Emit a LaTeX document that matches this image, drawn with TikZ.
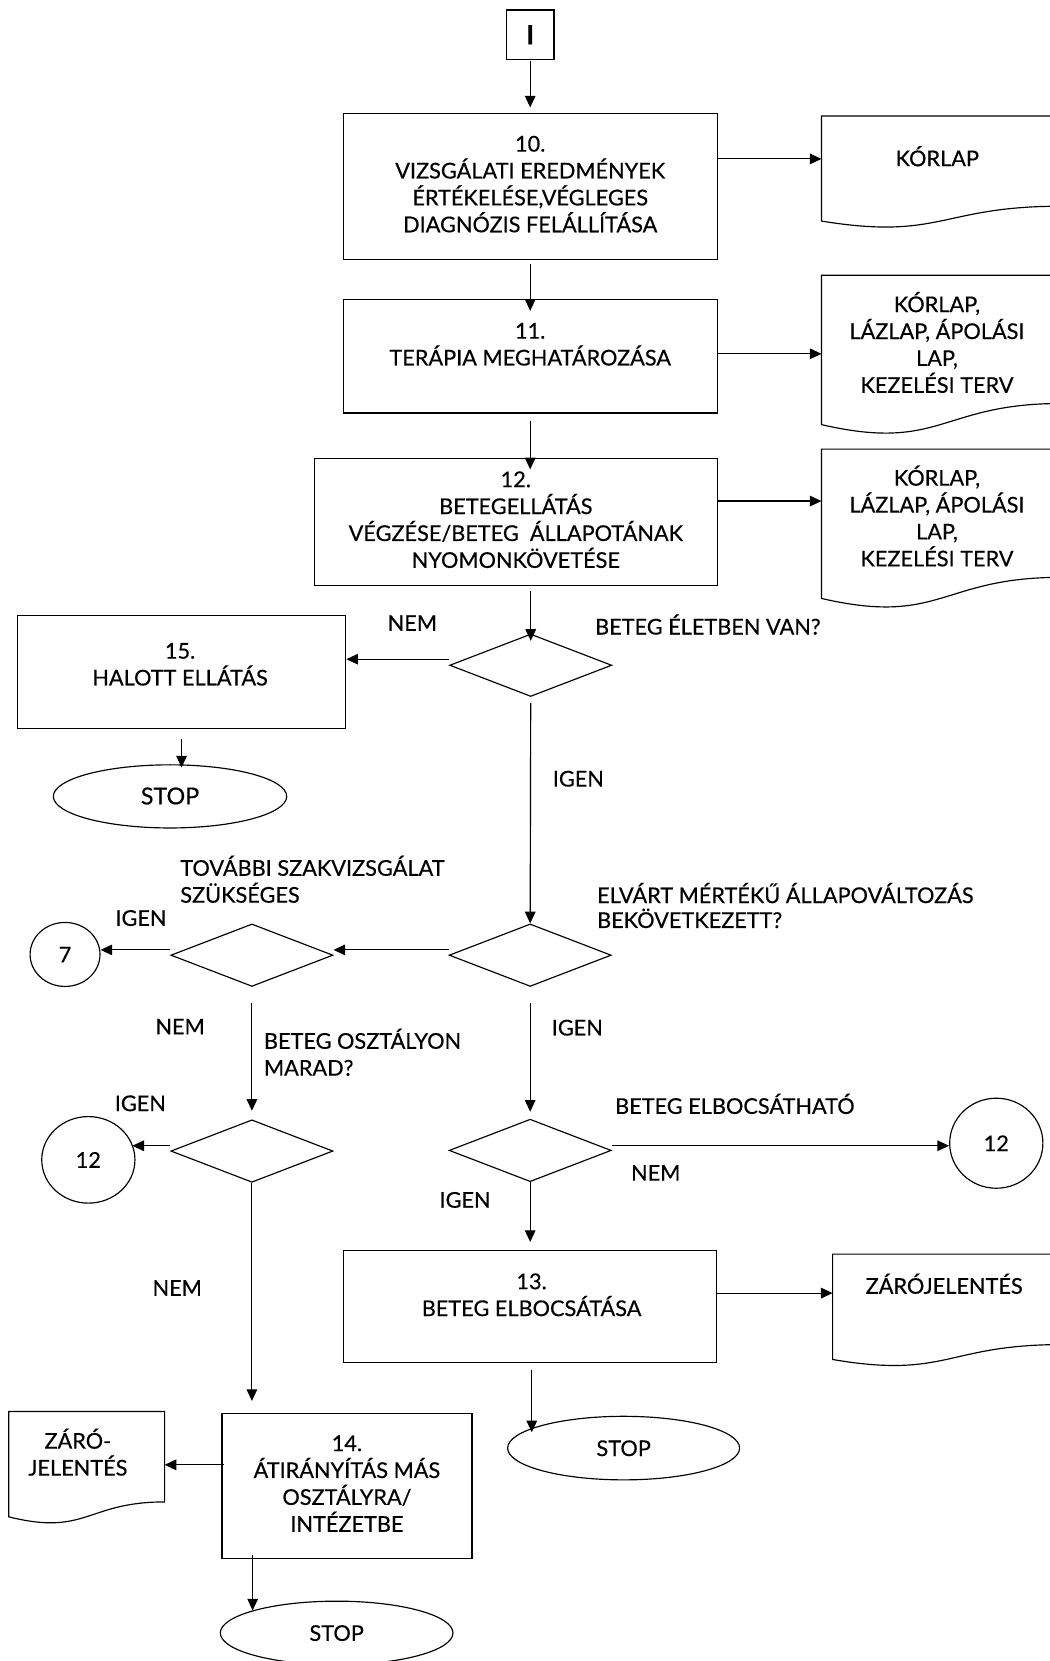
\documentclass[tikz,border=0pt]{standalone}
\usepackage{fontspec}
\setmainfont{Lato}[FakeBold=0.4]
\usetikzlibrary{shapes.geometric,arrows.meta,calc}
\newcommand\sL{\rule[-4.5pt]{0pt}{24pt}}
\newcommand\docoutline[1]{%
  \draw[line] (#1.north west) -- (#1.north east)
    -- ($(#1.north east)!0.802!(#1.south east)$)
    .. controls ($(#1.north)!0.802!(#1.south)$) and ($(#1.north)!1.107!(#1.south)$)
    .. ($(#1.north west)!0.934!(#1.south west)$) -- cycle;}
\begin{document}
\begin{tikzpicture}[x=1pt,y=-1pt,
  line/.style={line width=1.1pt},
  arr/.style={line width=1.1pt,-{Triangle[length=11pt,width=10pt]}},
  box/.style={draw,line width=1.1pt,rectangle,inner sep=0pt},
  dec/.style={draw,line width=1.1pt,diamond,inner sep=0pt,minimum width=153pt,minimum height=59pt},
  oval/.style={draw,line width=1.1pt,ellipse,inner sep=0pt},
  doc/.style={inner sep=0pt,anchor=north west},
  fnt/.style={font=\fontsize{20.5}{25.4}\selectfont},
  txt/.style={fnt,inner sep=0pt,align=center,execute at begin node=\sL,execute at end node=\sL},
  lbl/.style={fnt,inner sep=0pt,align=left,anchor=west,execute at begin node=\sL,execute at end node=\sL}]
\useasboundingbox (0,0) rectangle (991,1568);
\clip (0,0) rectangle (991,1568);

% process boxes
\node[box,minimum width=45pt,minimum height=46.5pt,font=\fontsize{25}{25}\selectfont\bfseries] (start) at (500.5,32.7) {I};
\node[box,txt,minimum width=353pt,minimum height=138pt] (b10) at (500.5,176) {10.\\VIZSGÁLATI EREDMÉNYEK\\ÉRTÉKELÉSE,VÉGLEGES\\DIAGNÓZIS FELÁLLÍTÁSA};
\node[box,minimum width=353pt,minimum height=107.5pt] (b11) at (500.5,336.2) {};
\node[txt] (b11t) at (500.5,327.2) {11.\\TERÁPIA MEGHATÁROZÁSA};
\node[box,txt,minimum width=380.3pt,minimum height=120.4pt] (b12) at (486.9,492.8) {12.\\BETEGELLÁTÁS\\VÉGZÉSE/BETEG~ ÁLLAPOTÁNAK\\NYOMONKÖVETÉSE};
\node[box,minimum width=310pt,minimum height=106.7pt] (b15) at (171.4,634.4) {};
\node[txt] (b15t) at (170,629.3) {15.\\HALOTT ELLÁTÁS};
\node[box,minimum width=352.6pt,minimum height=105.5pt] (b13) at (500.3,1233.2) {};
\node[txt] (b13t) at (501.8,1224.5) {13.\\BETEG ELBOCSÁTÁSA};
\node[box,txt,minimum width=236pt,minimum height=137.5pt] (b14) at (327.5,1402.8) {14.\\ÁTIRÁNYÍTÁS MÁS\\OSZTÁLYRA/\\INTÉZETBE};

% documents
\node[doc,minimum width=225pt,minimum height=105.8pt] (doc1) at (775.5,109.5) {};
\docoutline{doc1}
\node[txt] (doc1t) at (884.8,149.4) {KÓRLAP};
\node[doc,minimum width=225pt,minimum height=150.5pt] (doc2) at (775.5,259.9) {};
\docoutline{doc2}
\node[txt] (doc2t) at (884.5,325.5) {KÓRLAP,\\LÁZLAP, ÁPOLÁSI\\LAP,\\KEZELÉSI TERV};
\node[doc,minimum width=225pt,minimum height=150.5pt] (doc3) at (775.5,424) {};
\docoutline{doc3}
\node[txt] (doc3t) at (884.5,489.3) {KÓRLAP,\\LÁZLAP, ÁPOLÁSI\\LAP,\\KEZELÉSI TERV};
\node[doc,minimum width=215pt,minimum height=106.1pt] (docZ) at (786,1183.9) {};
\docoutline{docZ}
\node[txt] (docZt) at (891.3,1213.8) {ZÁRÓJELENTÉS};
\node[doc,minimum width=146.8pt,minimum height=106.1pt] (docL) at (8.2,1332.4) {};
\docoutline{docL}
\node[txt] (docLt) at (73.5,1373) {ZÁRÓ-\\JELENTÉS};

% decisions
\node[dec] (d1) at (501,628) {};
\node[dec] (d2) at (500.5,901.7) {};
\node[dec] (d3) at (500.5,1086) {};
\node[dec] (d4) at (237.8,901.7) {};
\node[dec] (d5) at (237.8,1086.6) {};

% connectors / terminators
\node[oval,txt,minimum width=66pt,minimum height=60.4pt] (c7) at (61.4,901) {7};
\node[oval,txt,minimum width=88pt,minimum height=81.7pt] (c12l) at (83.4,1094.9) {12};
\node[oval,txt,minimum width=88pt,minimum height=85pt] (c12r) at (940.5,1079.2) {12};
\node[oval,txt,minimum width=220.3pt,minimum height=59.6pt,font=\fontsize{22}{25.4}\selectfont] (stop1) at (160.5,751.8) {STOP};
\node[oval,txt,minimum width=219pt,minimum height=60pt] (stop2) at (588.7,1367) {STOP};
\node[oval,txt,minimum width=219.6pt,minimum height=60pt] (stop3) at (317.8,1541.5) {STOP};

% labels
\node[lbl] (l1) at (561.6,591.5) {BETEG ÉLETBEN VAN?};
\node[txt] (l2) at (389.3,588) {NEM};
\node[txt] (l3) at (546,735) {IGEN};
\node[lbl,font=\fontsize{20.5}{23.5}\selectfont] (l4) at (563.5,857) {ELVÁRT MÉRTÉKŰ ÁLLAPOVÁLTOZÁS\\BEKÖVETKEZETT?};
\node[lbl] (l5) at (170,832.2) {TOVÁBBI SZAKVIZSGÁLAT\\SZÜKSÉGES};
\node[txt] (l6) at (133.1,866.5) {IGEN};
\node[txt] (l7) at (545,970) {IGEN};
\node[txt] (l8) at (170,969) {NEM};
\node[lbl] (l9) at (249,995.5) {BETEG OSZTÁLYON\\MARAD?};
\node[lbl] (l10) at (580.5,1044) {BETEG ELBOCSÁTHATÓ};
\node[txt] (l11) at (619,1107) {NEM};
\node[txt] (l12) at (439,1132.6) {IGEN};
\node[txt] (l13) at (132.5,1041.4) {IGEN};
\node[txt] (l14) at (167.3,1215.7) {NEM};

% arrows
\draw[arr,shorten <=1.5pt,shorten >=5pt] (start.south) -- (b10.north);
\draw[arr,shorten <=3.5pt,shorten >=-11.5pt] (b10.south) -- (b11.north);
\draw[arr,shorten <=7pt,shorten >=-11pt] (b11.south) -- (b11.south |- b12.north);
\draw[arr] ([yshift=26pt]b10.east) -- ([yshift=26pt]b10.east -| doc1.west);
\draw[arr] ([yshift=2.2pt]b11.east) -- ([yshift=2.2pt]b11.east -| doc2.west);
\draw[arr] ([yshift=19.8pt]b12.east) -- ([yshift=19.8pt]b12.east -| doc3.west);
\draw[arr,shorten <=4.5pt,shorten >=-7pt] (d1.north |- b12.south) -- (d1.north);
\draw[arr] ([yshift=5.7pt]d1.west) -- ([yshift=5.7pt]d1.west -| b15.east);
\draw[arr,shorten <=9pt,shorten >=-3pt] (b15.south) -- (b15.south |- stop1.north);
\draw[arr,shorten <=5.5pt] (d1.south) -- (d2.north);
\draw[arr] ([yshift=5pt]d2.west) -- ([yshift=5pt]d4.east);
\draw[arr] ([yshift=5pt]d4.west) -- ([yshift=5pt]d4.west -| c7.east);
\draw[arr,shorten <=15pt,shorten >=6.5pt] (d2.south) -- (d3.north);
\draw[arr] ([yshift=4.4pt]d3.east) -- ([yshift=4.4pt]d3.east -| c12r.west);
\draw[arr,shorten >=7.5pt] (d3.south) -- (d3.south |- b13.north);
\draw[arr] ([yshift=12.5pt]b13.east) -- ([yshift=12.5pt]b13.east -| docZ.west);
\draw[arr,shorten <=7pt,shorten >=-15.6pt] ([xshift=1.7pt]b13.south) -- ([xshift=1.7pt]b13.south |- stop2.north);
\draw[arr,shorten <=15pt,shorten >=8pt] (d4.south) -- (d5.north);
\draw[arr,shorten >=-3pt] ([yshift=5pt]d5.west) -- ([yshift=5pt]d5.west -| c12l.east);
\draw[arr,shorten >=11pt] (d5.south) -- (d5.south |- b14.north);
\draw[arr,shorten <=-2.5pt] ([yshift=20pt]b14.west) -- ([yshift=20pt]b14.west -| docL.east);
\draw[arr,shorten <=-3.8pt,shorten >=-9.3pt] ([xshift=-89pt]b14.south) -- ([xshift=-89pt]b14.south |- stop3.north);
\end{tikzpicture}
\end{document}
